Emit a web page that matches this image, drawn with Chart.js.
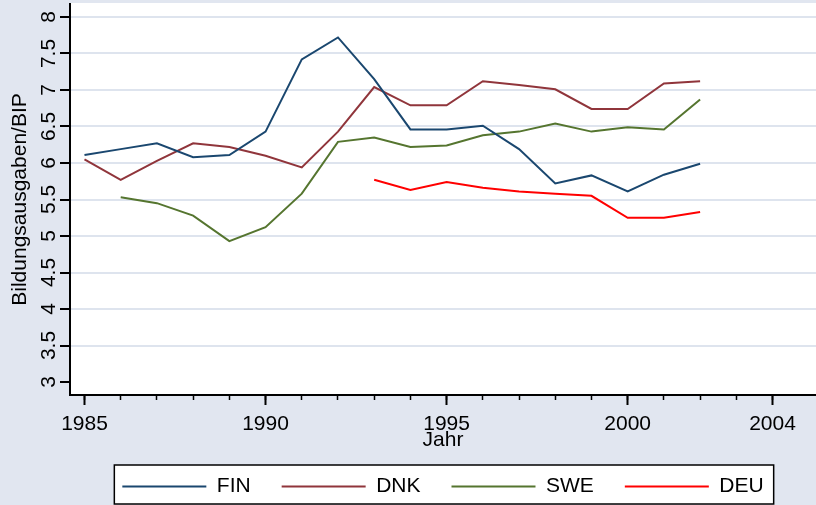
<!DOCTYPE html>
<html>
<head>
<meta charset="utf-8">
<script src="https://cdn.jsdelivr.net/npm/chart.js@4"></script>
<style>
html,body{margin:0;padding:0;background:#E2E7F1;}
canvas{display:block;}
</style>
</head>
<body>
<canvas id="c" width="816" height="505"></canvas>
<script>
// ---- data ----
const years = [1985,1986,1987,1988,1989,1990,1991,1992,1993,1994,1995,1996,1997,1998,1999,2000,2001,2002];
const fin = [6.11,6.19,6.27,6.08,6.11,6.43,7.42,7.72,7.15,6.46,6.46,6.51,6.19,5.72,5.83,5.61,5.84,5.99];
const dnk = [6.05,5.77,6.03,6.27,6.22,6.10,5.94,6.43,7.04,6.79,6.79,7.12,7.07,7.01,6.74,6.74,7.09,7.12];
const swe = [null,5.53,5.45,5.28,4.93,5.12,5.58,6.29,6.35,6.22,6.24,6.38,6.43,6.54,6.43,6.49,6.46,6.87];
const deu = [null,null,null,null,null,null,null,null,5.77,5.63,5.74,5.66,5.61,5.58,5.55,5.25,5.25,5.33];
const seriesNames = ['FIN','DNK','SWE','DEU'];
const xMajorTicks = [1985,1990,1995,2000,2004];
const xMinorTicks = [1985,1986,1987,1988,1989,1990,1991,1992,1993,1994,1995,1996,1997,1998,1999,2000,2001,2002,2003,2004];
const yTicks = [3,3.5,4,4.5,5,5.5,6,6.5,7,7.5,8];
const xTitle = 'Jahr';
const yTitle = 'Bildungsausgaben/BIP';

// ---- styles ----
const BG = '#E1E6F0';
const GRID = '#DEE4EE';
const COLORS = ['#1a476f','#90353b','#55752f','#ff0000'];
Chart.defaults.font.family = "'Liberation Sans', Arial, Helvetica, sans-serif";
Chart.defaults.color = '#000';

const toPts = arr => years.map((yr, i) => ({x: yr, y: arr[i]}));
const seriesValues = [fin, dnk, swe, deu];

const zeroPad = s => { s.paddingLeft = 0; s.paddingRight = 0; s.paddingTop = 0; s.paddingBottom = 0; };

const bgPlugin = {
  id: 'bgPlugin',
  beforeDraw(chart) {
    const {ctx, chartArea: a} = chart;
    ctx.save();
    ctx.fillStyle = BG;
    ctx.fillRect(0, 0, chart.width, chart.height);
    ctx.fillStyle = '#fff';
    ctx.fillRect(a.left, a.top - 1, a.right - a.left, a.bottom - a.top + 1);
    const hb = chart.legend && chart.legend.legendHitBoxes;
    if (hb && hb.length) {
      const last = hb[hb.length - 1];
      const l = hb[0].left - 8, r = last.left + last.width + 10;
      const t = hb[0].top - 11, b = Math.min(hb[0].top + hb[0].height + 8, chart.height - 1);
      ctx.fillStyle = '#fff';
      ctx.fillRect(l, t, r - l, b - t);
      ctx.strokeStyle = '#000';
      ctx.lineWidth = 1.5;
      ctx.strokeRect(l, t, r - l, b - t);
    }
    ctx.restore();
  }
};

new Chart(document.getElementById('c'), {
  type: 'line',
  data: {
    datasets: seriesNames.map((name, i) => ({
      label: name,
      data: toPts(seriesValues[i]),
      borderColor: COLORS[i],
      backgroundColor: COLORS[i],
      borderWidth: 2,
      pointRadius: 0,
      tension: 0,
      fill: false,
      xAxisID: 'x',
      yAxisID: 'y'
    }))
  },
  options: {
    responsive: false,
    devicePixelRatio: 1,
    animation: false,
    events: [],
    layout: {padding: {top: 4, left: 0, right: 0, bottom: 0}},
    plugins: {
      tooltip: {enabled: false},
      legend: {
        position: 'bottom',
        fullSize: false,
        align: 'center',
        maxHeight: 60,
        labels: {
          boxWidth: 84,
          boxHeight: 2,
          padding: 31,
          color: '#000',
          font: {size: 21},
          generateLabels: chart => chart.data.datasets.map((ds, i) => ({
            text: ds.label, fillStyle: ds.borderColor, strokeStyle: ds.borderColor,
            lineWidth: 0, hidden: false, datasetIndex: i, fontColor: '#000'
          }))
        }
      }
    },
    scales: {
      x: {
        type: 'linear', position: 'bottom', weight: 1,
        min: 1984.6, max: 2005.2, bounds: 'data',
        afterBuildTicks: s => { s.ticks = xMajorTicks.map(v => ({value: v})); },
        afterFit: s => { s.height = 50; zeroPad(s); },
        ticks: {autoSkip: false, minRotation: 0, maxRotation: 0, padding: 7, color: '#000', font: {size: 21}, callback: v => String(v)},
        grid: {drawOnChartArea: false, drawTicks: true, tickLength: 10, tickColor: '#000', tickWidth: 2},
        border: {display: true, color: '#000', width: 2},
        title: {display: true, text: xTitle, color: '#000', font: {size: 21}, padding: {top: 0, bottom: -8}}
      },
      x2: {
        type: 'linear', position: 'bottom', weight: 0,
        min: 1984.6, max: 2005.2, bounds: 'data',
        afterBuildTicks: s => { s.ticks = xMinorTicks.map(v => ({value: v})); },
        afterFit: s => { s.height = 0; zeroPad(s); },
        ticks: {display: false, autoSkip: false},
        grid: {drawOnChartArea: false, drawTicks: true, tickLength: 5, tickColor: '#000', tickWidth: 1.5},
        border: {display: false}
      },
      y: {
        type: 'linear', position: 'left',
        min: 2.822, max: 8.178, bounds: 'data',
        afterBuildTicks: s => { s.ticks = yTicks.map(v => ({value: v})); },
        afterFit: s => { s.width = 70; zeroPad(s); },
        ticks: {autoSkip: false, minRotation: 90, maxRotation: 90, align: 'end', crossAlign: 'center', padding: -14, color: '#000', font: {size: 21}, callback: v => String(v)},
        grid: {
          color: ctx => (ctx.tick && ctx.tick.value === yTicks[0]) ? 'rgba(0,0,0,0)' : GRID,
          lineWidth: 2, tickColor: '#000', tickLength: 10, tickWidth: 2
        },
        border: {color: '#000', width: 2},
        title: {display: true, text: yTitle, color: '#000', font: {size: 21}, padding: {top: 8, bottom: 0}}
      }
    }
  },
  plugins: [bgPlugin]
});
</script>
</body>
</html>
